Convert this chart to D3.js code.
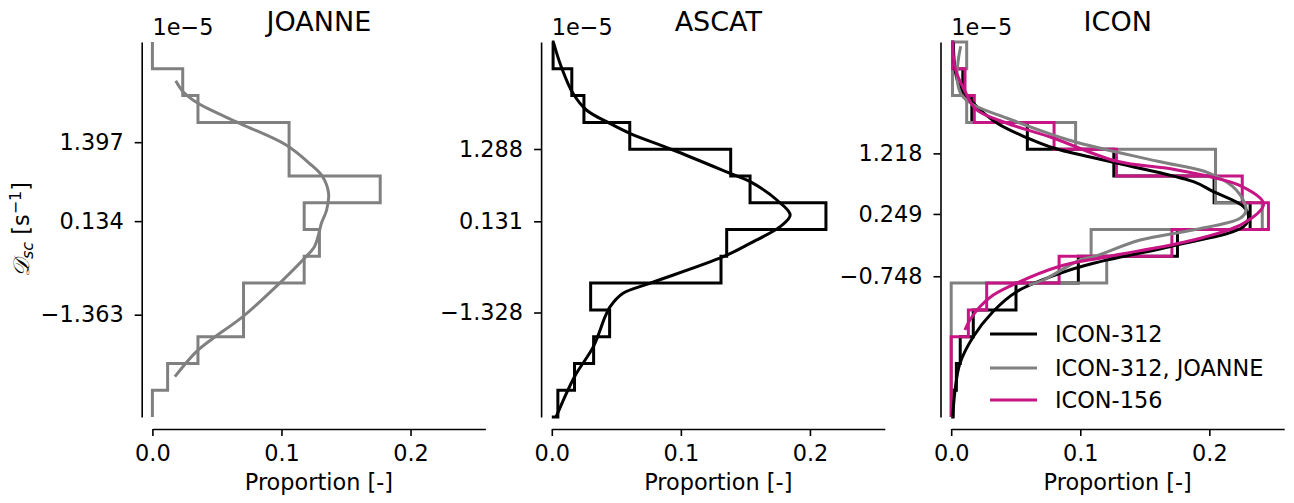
<!DOCTYPE html>
<html>
<head>
<meta charset="utf-8">
<script src="https://cdn.jsdelivr.net/npm/d3@7"></script>
<style>
  html, body { margin: 0; padding: 0; background: #fff; }
  svg { display: block; font-family: "DejaVu Sans", sans-serif; }
</style>
</head>
<body>
<svg id="chart" width="1294" height="503"></svg>
<script>
// ---------------- data ----------------
const panelTitles = ["JOANNE", "ASCAT", "ICON"];
const binEdges = [-3, -2.571, -2.143, -1.714, -1.286, -0.857, -0.429, 0, 0.429, 0.857, 1.286, 1.714, 2.143, 2.571, 3];
const xTicks = [0, 0.1, 0.2];
const yTicksJoanne = [1.397, 0.134, -1.363];
const yTicksAscat = [1.288, 0.131, -1.328];
const yTicksIcon = [1.218, 0.249, -0.748];
const offsetLabel = "1e\u22125";

// histogram proportions, bins from bottom (-3) to top (+3)
const histJoanne = [0, 0.0118, 0.0353, 0.0706, 0.0706, 0.1176, 0.1294, 0.1176, 0.1765, 0.1059, 0.1059, 0.0353, 0.0235, 0];
const histAscat = [0.0047, 0.0176, 0.0324, 0.0448, 0.0301, 0.1311, 0.1355, 0.2124, 0.1536, 0.1386, 0.0604, 0.0249, 0.0155, 0.001];
const histIcon312 = [0.0015, 0.004, 0.007, 0.0171, 0.0502, 0.0985, 0.1753, 0.2316, 0.2037, 0.126, 0.059, 0.016, 0.009, 0.0015];
const histIcon312Joanne = [0, 0, 0, 0, 0, 0.1205, 0.1084, 0.241, 0.2048, 0.2048, 0.0964, 0.012, 0.001, 0.012];
const histIcon156 = [0, 0, 0, 0.0133, 0.0275, 0.0836, 0.171, 0.2458, 0.2255, 0.128, 0.0797, 0.0179, 0.0107, 0.001];

// density curves: [value (1e-5 s^-1), proportion]
const curveJoanne = [[2.381,0.0181],[2.205,0.0238],[2.019,0.0354],[1.699,0.0676],[1.352,0.1036],[1.059,0.1216],[0.845,0.1319],[0.579,0.1365],[0.312,0.135],[0.104,0.131],[-0.061,0.129],[-0.275,0.1255],[-0.461,0.1178],[-0.861,0.0985],[-1.395,0.0701],[-1.741,0.047],[-1.955,0.0341],[-2.355,0.0174]];
const curveAscat = [[2.995,0.0013],[2.605,0.0073],[2.179,0.0164],[1.912,0.0268],[1.699,0.0448],[1.539,0.0604],[1.272,0.094],[0.899,0.1381],[0.765,0.1537],[0.472,0.1744],[0.232,0.1847],[0.045,0.1769],[-0.221,0.1536],[-0.435,0.1329],[-0.861,0.0759],[-1.021,0.0552],[-1.235,0.0452],[-1.395,0.0413],[-1.875,0.0322],[-2.355,0.0176],[-2.995,0.0034]];
const curveIcon312 = [[2.995,0.0016],[2.339,0.0055],[2.024,0.0171],[1.704,0.0354],[1.464,0.0591],[1.304,0.0792],[1.064,0.1282],[0.765,0.1877],[0.605,0.2032],[0.365,0.2265],[0.205,0.2304],[0.045,0.2265],[-0.248,0.1748],[-0.541,0.1102],[-0.701,0.0843],[-0.995,0.0507],[-1.315,0.0323],[-1.715,0.0171],[-2.141,0.0068],[-2.568,0.003],[-2.995,0.0012]];
const curveIcon312Joanne = [[2.931,0.0074],[2.712,0.0055],[2.424,0.0045],[2.152,0.008],[1.997,0.0171],[1.784,0.0429],[1.411,0.0945],[1.091,0.16],[0.899,0.2003],[0.632,0.2209],[0.312,0.2285],[0.179,0.2238],[-0.008,0.1872],[-0.168,0.1465],[-0.435,0.1104],[-0.488,0.0998],[-0.808,0.0714],[-0.888,0.06]];
const curveIcon156 = [[3.011,0.0012],[2.584,0.003],[2.211,0.0107],[1.917,0.0195],[1.704,0.0428],[1.464,0.0789],[1.091,0.1284],[0.952,0.1751],[0.685,0.2255],[0.408,0.242],[0.099,0.2265],[-0.168,0.1877],[-0.435,0.1207],[-0.595,0.0829],[-0.861,0.0502],[-1.048,0.0326],[-1.235,0.0222],[-1.448,0.0145],[-1.608,0.0106]];

const legendLabels = ["ICON-312", "ICON-312, JOANNE", "ICON-156"];
const colors = { black: "#000000", gray: "#808080", magenta: "#c71585" };

// ---------------- layout ----------------
const svg = d3.select("#chart");
const panelX0 = [152.4, 551.8, 951.2];
const plotW = 333;
const yTop = 42, yBottom = 417;
const xAxisY = 429;
const spineOffset = 10.7;
const fontTick = 22.4, fontTitle = 27;

const panels = [
  { title: panelTitles[0], yTicks: yTicksJoanne, series: [
      { hist: histJoanne, curve: curveJoanne, color: colors.gray } ] },
  { title: panelTitles[1], yTicks: yTicksAscat, series: [
      { hist: histAscat, curve: curveAscat, color: colors.black } ] },
  { title: panelTitles[2], yTicks: yTicksIcon, series: [
      { hist: histIcon312, curve: curveIcon312, color: colors.black },
      { hist: histIcon312Joanne, curve: curveIcon312Joanne, color: colors.gray },
      { hist: histIcon156, curve: curveIcon156, color: colors.magenta } ] }
];

const y = d3.scaleLinear().domain([-3, 3]).range([yBottom, yTop]);
const fmtY = v => (v < 0 ? "\u2212" : "") + Math.abs(v).toFixed(3);

panels.forEach((p, i) => {
  const x0 = panelX0[i];
  const x = d3.scaleLinear().domain([0, 0.258]).range([x0, x0 + plotW]);
  const g = svg.append("g");

  // histograms (step outlines)
  p.series.forEach(s => {
    const pts = [];
    pts.push([x(0), y(binEdges[0])]);
    s.hist.forEach((v, k) => {
      pts.push([x(v), y(binEdges[k])]);
      pts.push([x(v), y(binEdges[k + 1])]);
    });
    pts.push([x(0), y(binEdges[binEdges.length - 1])]);
    g.append("path")
      .attr("d", d3.line()(pts))
      .attr("fill", "none")
      .attr("stroke", s.color)
      .attr("stroke-width", 3)
      .attr("stroke-linejoin", "miter");
  });
  // density curves
  p.series.forEach(s => {
    g.append("path")
      .attr("d", d3.line().x(d => x(d[1])).y(d => y(d[0])).curve(d3.curveCatmullRom.alpha(0.5))(s.curve))
      .attr("fill", "none")
      .attr("stroke", s.color)
      .attr("stroke-width", 3)
      .attr("stroke-linecap", "butt");
  });

  // x axis
  const xa = g.append("g")
    .attr("transform", `translate(0,${xAxisY})`)
    .call(d3.axisBottom(x).tickValues(xTicks).tickFormat(d3.format(".1f")).tickSize(7).tickSizeOuter(0).tickPadding(9));
  xa.select(".domain").attr("stroke-width", 1.6);
  xa.selectAll(".tick line").attr("stroke-width", 1.6);
  xa.selectAll("text").attr("font-size", fontTick).attr("font-family", "DejaVu Sans").attr("fill", "#000");

  // y axis
  const ya = g.append("g")
    .attr("transform", `translate(${x0 - spineOffset},0)`)
    .call(d3.axisLeft(y).tickValues(p.yTicks).tickFormat(fmtY).tickSize(7).tickSizeOuter(0).tickPadding(11));
  ya.select(".domain").attr("stroke-width", 1.6);
  ya.selectAll(".tick line").attr("stroke-width", 1.6);
  ya.selectAll("text").attr("font-size", fontTick).attr("font-family", "DejaVu Sans").attr("fill", "#000");

  // titles and labels
  g.append("text").attr("x", x0 + plotW / 2).attr("y", 31)
    .attr("text-anchor", "middle").attr("font-size", fontTitle).text(p.title);
  g.append("text").attr("x", x0).attr("y", 35)
    .attr("font-size", fontTick).text(offsetLabel);
  g.append("text").attr("x", x0 + plotW / 2).attr("y", 490)
    .attr("text-anchor", "middle").attr("font-size", fontTick).text("Proportion [-]");
});

// y label
const yl = svg.append("text")
  .attr("transform", "translate(29,229.5) rotate(-90)")
  .attr("text-anchor", "middle")
  .attr("font-size", fontTick);
yl.append("tspan").attr("font-family", "DejaVu Serif, serif").attr("font-style", "italic").text("\uD835\uDC9F");
yl.append("tspan").attr("font-style", "italic").attr("font-size", 16).attr("dy", 4).text("sc");
yl.append("tspan").attr("dy", -4).text(" [s");
yl.append("tspan").attr("font-size", 16).attr("dy", -8).text("\u22121");
yl.append("tspan").attr("dy", 8).text("]");

// legend
const legX0 = 990, legX1 = 1037, legTX = 1055;
const legY = [334, 368, 400];
const legColors = [colors.black, colors.gray, colors.magenta];
legendLabels.forEach((lab, k) => {
  svg.append("line").attr("x1", legX0).attr("x2", legX1).attr("y1", legY[k]).attr("y2", legY[k])
    .attr("stroke", legColors[k]).attr("stroke-width", 3);
  svg.append("text").attr("x", legTX).attr("y", legY[k]).attr("dy", "0.36em")
    .attr("font-size", fontTick).text(lab);
});
</script>
</body>
</html>
